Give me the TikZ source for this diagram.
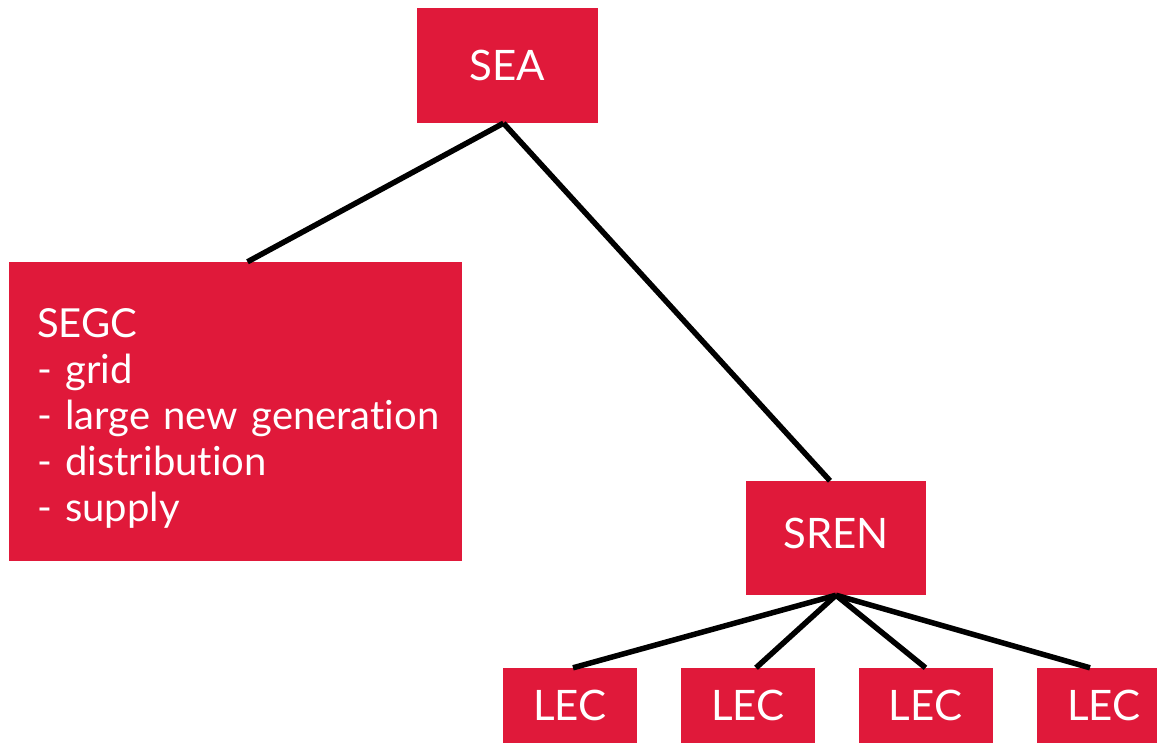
\documentclass[tikz,border=0pt]{standalone}
\usepackage{fontspec}
\setmainfont{Lato}[Ligatures=NoCommon]
\usetikzlibrary{positioning}
\definecolor{boxred}{RGB}{224,25,58}
\tikzset{
  box/.style={fill=boxred,text=white,inner sep=0pt,font=\fontsize{42}{46}\selectfont},
  link/.style={line width=5.5pt}
}

\begin{document}
\begin{tikzpicture}[x=1pt,y=-1pt]
\clip (0,0) rectangle (1157,743);
\node[box,minimum width=181pt,minimum height=115pt] (sea) at (507.5,65.5) {SEA};
\node[box,minimum width=453pt,minimum height=299pt,align=left,text width=397pt,
  font=\fontsize{40}{46}\selectfont] (segc) at (235.5,411.5)
  {\rule{0pt}{42pt}SEGC\\- grid\\\mbox{- large new generation}\\- distribution\\- supply};
\node[box,minimum width=180pt,minimum height=114pt,text depth=9pt] (sren) at (836,538) {SREN};
\foreach \x [count=\i] in {570,748,925.5,1104}
  \node[box,minimum width=134pt,minimum height=75pt] (lec\i) at (\x,705.5) {LEC};
\draw[link] ([xshift=-4pt]sea.south) -- ([xshift=12pt]segc.north);
\draw[link] ([xshift=-4pt]sea.south) -- ([xshift=-6pt]sren.north);
\foreach \i/\s in {1/3,2/8,3/0,4/-14}
  \draw[link] (sren.south) -- ([xshift=\s pt]lec\i.north);
\end{tikzpicture}
\end{document}
